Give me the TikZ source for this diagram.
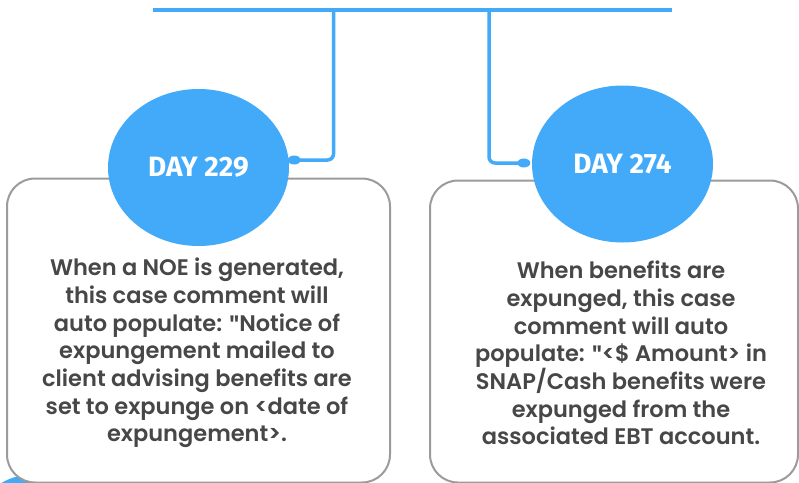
\documentclass[tikz,border=0pt]{standalone}
\usepackage{fontspec}
\setmainfont{Poppins}[BoldFont={Poppins SemiBold}]
\newfontfamily\dayfont{Fira Sans}
\usetikzlibrary{shapes.geometric,calc}
\definecolor{tlblue}{HTML}{42AAF8}
\definecolor{boxgray}{HTML}{9B9B9B}
\definecolor{txtgray}{HTML}{474747}
\newcommand{\straightq}{{\dayfont\char34}}
\tikzset{
  dayball/.style={ellipse,fill=tlblue,minimum width=181pt,minimum height=157pt,inner sep=0pt,
    text=white,font=\dayfont\bfseries\fontsize{28}{28}\selectfont},
  infobox/.style={rectangle,draw=boxgray,line width=2pt,rounded corners=28pt,fill=white,inner sep=0pt},
  infotext/.style={align=center,text=txtgray,font=\bfseries\fontsize{22.5}{27.7}\selectfont,inner sep=0pt},
  bluewire/.style={draw=tlblue,line width=4pt},
  thinwire/.style={draw=tlblue,line width=3.5pt,rounded corners=6pt},
  wiredot/.style={ellipse,fill=tlblue,minimum width=13pt,minimum height=9pt,inner sep=0pt},
}
\begin{document}
\begin{tikzpicture}[x=1pt,y=-1pt]
\useasboundingbox (0,0) rectangle (799,482);
% partial circle at bottom left
\fill[tlblue] (30,530) circle (55);
% boxes
\node[infobox,minimum width=383pt,minimum height=304pt] (b1) at (198.5,330.5) {};
\node[infobox,minimum width=368pt,minimum height=302pt] (b2) at (614,331.5) {};
% top line
\coordinate (tl) at (153,10);
\coordinate (tr) at (672,10);
\coordinate (j1) at (333.5,10);
\coordinate (j2) at (489,10);
\draw[bluewire] (tl) -- (tr);
% circles
\node[dayball] (c1) at (198.5,167.5) {DAY 229};
\node[dayball] (c2) at (622.5,164) {DAY 274};
% connectors
\node[wiredot] (d1) at ($(c1.east)+(5,-7.5)$) {};
\node[wiredot] (d2) at ($(c2.west)+(-8,-1)$) {};
\draw[thinwire] (j1) |- (d1.center);
\draw[thinwire] (j2) |- (d2.center);
% texts
\node[infotext] (t1) at (197,353) {When a NOE is generated,\\this case comment will\\auto populate: \straightq Notice of\\expungement mailed to\\client advising benefits are\\set to expunge on <date of\\expungement>.};
\node[infotext] (t2) at (621,353) {When benefits are\\expunged, this case\\comment will auto\\populate: \straightq<\$ Amount> in\\SNAP/Cash benefits were\\expunged from the\\associated EBT account.};
\end{tikzpicture}
\end{document}
